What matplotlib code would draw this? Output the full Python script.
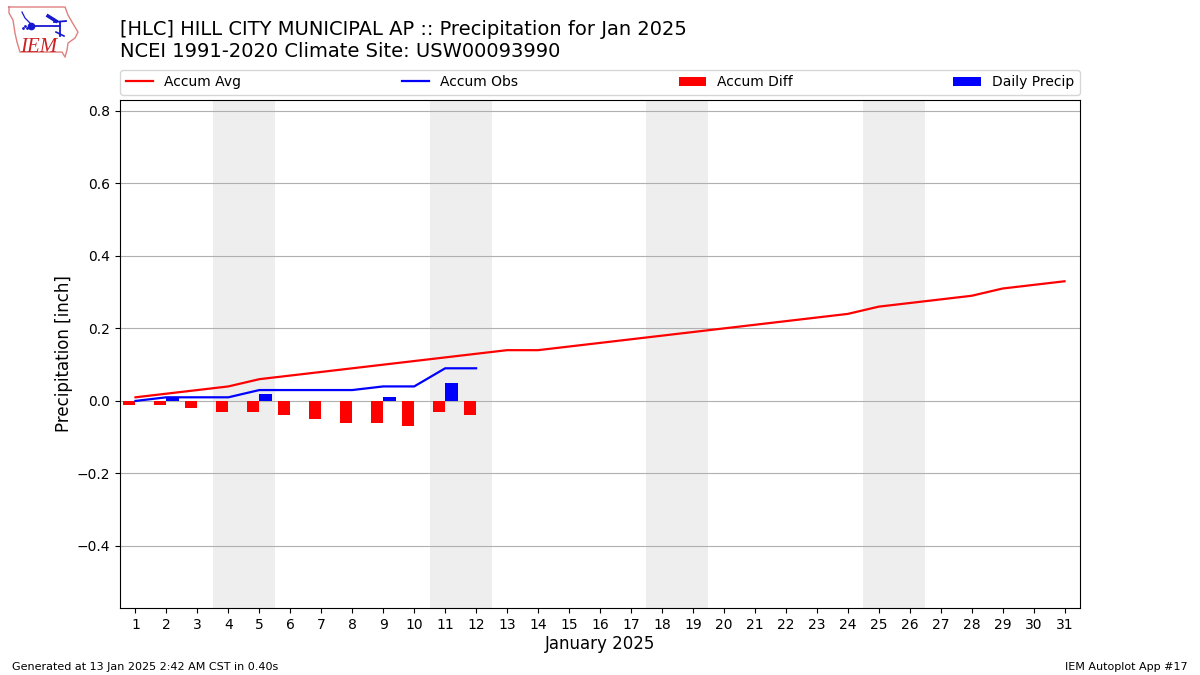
'''
    Daily precipitation accumulation for Hill City, January 2025.
'''
import numpy as np
import matplotlib
matplotlib.use('Agg')
import matplotlib.pyplot as plt

days = list(range(1, 32))
accum_avg = [0.01, 0.02, 0.03, 0.04, 0.06, 0.07, 0.08, 0.09, 0.10, 0.11, 0.12,
             0.13, 0.14, 0.14, 0.15, 0.16, 0.17, 0.18, 0.19, 0.20, 0.21, 0.22,
             0.23, 0.24, 0.26, 0.27, 0.28, 0.29, 0.31, 0.32, 0.33]
obs_days = list(range(1, 13))
accum_obs = [0.0, 0.01, 0.01, 0.01, 0.03, 0.03, 0.03, 0.03, 0.04, 0.04, 0.09, 0.09]
accum_diff = [-0.01, -0.01, -0.02, -0.03, -0.03, -0.04, -0.05, -0.06, -0.06, -0.07, -0.03, -0.04]
daily_precip = [0.0, 0.01, 0.0, 0.0, 0.02, 0.0, 0.0, 0.0, 0.01, 0.0, 0.05, 0.0]
weekends = [(4, 5), (11, 12), (18, 19), (25, 26)]

title_top = "[HLC] HILL CITY MUNICIPAL AP :: Precipitation for Jan 2025"
title_bottom = "NCEI 1991-2020 Climate Site: USW00093990"

fig = plt.figure(figsize=(12, 6.75), dpi=100)
ax = fig.add_axes([0.1, 0.0993, 0.8, 0.7526])

for start, end in weekends:
    ax.axvspan(start - 0.5, end + 0.5, color='#eeeeee', lw=0, zorder=0)

ax.plot(days, accum_avg, color='r', lw=1.6, label='Accum Avg', zorder=3)
ax.plot(obs_days, accum_obs, color='b', lw=1.6, label='Accum Obs', zorder=3)
ax.bar(obs_days, accum_diff, width=-0.4, align='edge', color='r', label='Accum Diff', zorder=2)
ax.bar(obs_days, daily_precip, width=0.4, align='edge', color='b', label='Daily Precip', zorder=2)

ax.set_xlim(0.5, 31.5)
ax.set_ylim(-0.571, 0.83)
ax.set_xticks(days)
ax.set_yticks(np.arange(-0.4, 0.81, 0.2))
ax.yaxis.grid(True, color='#b0b0b0', lw=0.8)
ax.set_axisbelow(True)
ax.tick_params(axis='both', labelsize=10)
ax.set_xlabel('January 2025', fontsize=12, labelpad=2.3)
ax.set_ylabel('Precipitation [inch]', fontsize=12, labelpad=2.5)

fig.text(0.1, 0.9565, title_top, fontsize=14, ha='left', va='center')
fig.text(0.1, 0.9235, title_bottom, fontsize=14, ha='left', va='center')
ax.legend(ncol=4, mode='expand', loc='lower left', bbox_to_anchor=(0, 1.01, 1, 0.05),
          borderaxespad=0, fontsize=10)

fig.text(0.01, 0.0045, 'Generated at 13 Jan 2025 2:42 AM CST in 0.40s', fontsize=8, ha='left', va='bottom')
fig.text(0.99, 0.0045, 'IEM Autoplot App #17', fontsize=8, ha='right', va='bottom')

# small IEM logo in the corner, drawn in pixel space of its own axes
logo = fig.add_axes([0, 0.911, 0.068, 0.089])
logo.set_xlim(0, 81.6)
logo.set_ylim(60, 0)
logo.axis('off')
state_x = [9, 65, 68, 72, 78, 75, 68, 67, 65, 62, 20, 17, 15, 13, 9, 9]
state_y = [7, 7, 15, 22, 32, 38, 43, 50, 57, 52, 52, 42, 33, 20, 13, 7]
logo.plot(state_x, state_y, color='#e08080', lw=1)
logo.plot([31, 60], [26, 26], color='#1818d0', lw=1.3)
logo.plot([60, 60], [22, 36], color='#1818d0', lw=1.3)
logo.plot([22, 25, 30, 31], [12, 18, 23, 26], color='#1818d0', lw=0.9)
logo.plot([48, 56], [16, 21], color='#1818d0', lw=2.5)
logo.plot([54, 66], [22, 21], color='#1818d0', lw=1.3)
logo.plot([56, 64], [32, 36], color='#1818d0', lw=1.2)
logo.plot([31], [26], 'o', color='#1818d0', ms=4.5)
logo.plot([23, 25, 27], [28, 26, 28], '.', color='#1818d0', ms=2)
logo.text(20, 52, 'IEM', color='#cc2222', fontsize=15, family='Liberation Serif', style='italic',
          ha='left', va='baseline')

plt.savefig('out.png', dpi=100)
